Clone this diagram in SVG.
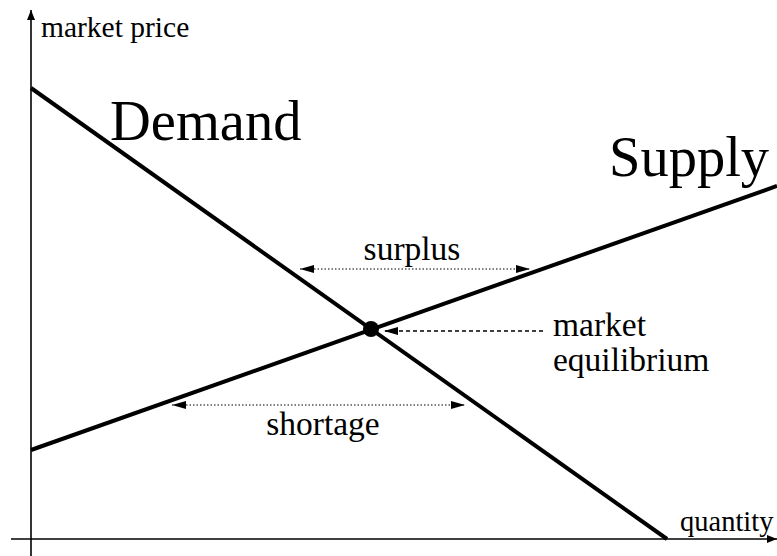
<svg xmlns="http://www.w3.org/2000/svg" width="777" height="556" viewBox="0 0 777 556" font-family="'Liberation Serif', 'DejaVu Serif', serif">
<style>
.axis{stroke:#000;stroke-width:1.6;fill:none}
.curve{stroke:#000;stroke-width:4;fill:none}
.dot{stroke:#000;stroke-width:1.2;stroke-dasharray:1.5 2;fill:none}
.dash{stroke:#000;stroke-width:1.6;stroke-dasharray:4 3;fill:none}
</style>
<defs>
<marker id="ah" markerWidth="10" markerHeight="8" refX="10" refY="4" orient="auto-start-reverse" markerUnits="userSpaceOnUse">
<path d="M0,0 L10,4 L0,8 Z" fill="#000"/>
</marker>
<marker id="ahs" markerWidth="14" markerHeight="8" refX="14" refY="4" orient="auto-start-reverse" markerUnits="userSpaceOnUse">
<path d="M0,0 L14,4 L0,8 Z" fill="#000"/>
</marker>
</defs>
<rect width="777" height="556" fill="#fff"/>
<g id="connectors">
<line class="axis" x1="31" y1="556" x2="31" y2="10" marker-end="url(#ah)"/>
<line class="axis" x1="11" y1="539" x2="777" y2="539" marker-end="url(#ah)"/>
<line class="curve" x1="31" y1="88" x2="667" y2="539"/>
<line class="curve" x1="31" y1="450" x2="777" y2="186"/>
<line class="dot" x1="300" y1="269" x2="530" y2="269" marker-start="url(#ahs)" marker-end="url(#ahs)"/>
<line class="dot" x1="172" y1="405" x2="465" y2="405" marker-start="url(#ahs)" marker-end="url(#ahs)"/>
<line class="dash" x1="543" y1="331" x2="384" y2="331" marker-end="url(#ahs)"/>
</g>
<g id="equilibrium"><circle cx="371" cy="329" r="8" fill="#000"/></g>
<g id="label-price"><text x="41" y="37" font-size="29.5">market price</text></g>
<g id="label-quantity"><text x="680" y="531" font-size="28.5">quantity</text></g>
<g id="label-demand"><text x="110" y="140" font-size="56.5">Demand</text></g>
<g id="label-supply"><text x="609" y="176" font-size="56.5">Supply</text></g>
<g id="label-surplus"><text x="412" y="260" font-size="33.5" text-anchor="middle">surplus</text></g>
<g id="label-shortage"><text x="323" y="435" font-size="33.5" text-anchor="middle">shortage</text></g>
<g id="label-equilibrium"><text x="553" y="336" font-size="33.5">market</text><text x="553" y="371" font-size="33.5">equilibrium</text></g>
</svg>
